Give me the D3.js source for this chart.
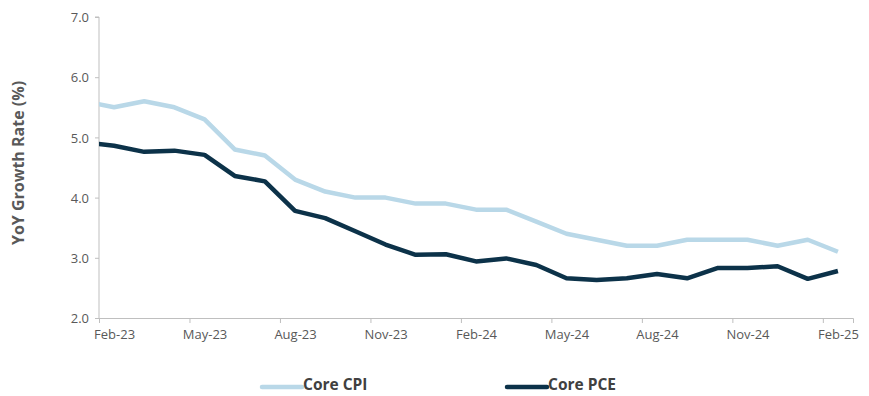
<!DOCTYPE html>
<html>
<head>
<meta charset="utf-8">
<script src="https://cdn.jsdelivr.net/npm/d3@7"></script>
<style>
  html, body { margin: 0; padding: 0; background: #fff; }
  svg { display: block; }
  svg text { font-family: "Open Sans", sans-serif; }
</style>
</head>
<body>
<svg id="chart" width="869" height="396"></svg>
<script>
// Monthly observations, Jan-23 through Feb-25 (Jan-23 only feeds the clipped lead-in)
const months = ["Jan-23","Feb-23","Mar-23","Apr-23","May-23","Jun-23","Jul-23","Aug-23","Sep-23","Oct-23","Nov-23","Dec-23",
  "Jan-24","Feb-24","Mar-24","Apr-24","May-24","Jun-24","Jul-24","Aug-24","Sep-24","Oct-24","Nov-24","Dec-24",
  "Jan-25","Feb-25"];
const coreCPI = [5.6,5.5,5.6,5.5,5.3,4.8,4.7,4.3,4.1,4.0,4.0,3.9,3.9,3.8,3.8,3.6,3.4,3.3,3.2,3.2,3.3,3.3,3.3,3.2,3.3,3.1];
const corePCE = [4.92,4.86,4.76,4.78,4.71,4.36,4.27,3.78,3.66,3.44,3.22,3.05,3.06,2.94,2.99,2.88,2.66,2.63,2.66,2.73,2.66,2.83,2.83,2.86,2.65,2.78];
const xTickLabels = ["Feb-23","May-23","Aug-23","Nov-23","Feb-24","May-24","Aug-24","Nov-24","Feb-25"];
const yTicks = [2.0,3.0,4.0,5.0,6.0,7.0];
const seriesNames = ["Core CPI","Core PCE"];
const seriesColors = ["#b9d8e8","#0c3249"];

const svg = d3.select("#chart");
const plotLeft = 99, plotRight = 853, plotTop = 17, plotBottom = 318;

// Month slots: slot 0 = Feb-23 spans [0,1]; points and labels sit at slot centres
const x = d3.scaleLinear().domain([0, 25]).range([plotLeft, plotRight]);
const y = d3.scaleLinear().domain([2, 7]).range([plotBottom, plotTop]);
const startIdx = months.indexOf("Feb-23");
const px = i => x(i - startIdx + 0.5);
const halfSlot = x(0.5) - x(0);

svg.append("defs").append("clipPath").attr("id", "plot")
  .append("rect").attr("x", plotLeft).attr("y", 0)
  .attr("width", plotRight - plotLeft).attr("height", plotBottom + 5);

// Y axis
const yAxis = svg.append("g").attr("transform", `translate(${plotLeft},0)`)
  .call(d3.axisLeft(y).tickValues(yTicks).tickFormat(d3.format(".1f")).tickSize(4).tickPadding(6));
// X axis: tick marks on every third month boundary, labels centred in the month
const xTickPos = xTickLabels.map(l => months.indexOf(l) - startIdx);
const xAxis = svg.append("g").attr("transform", `translate(0,${plotBottom})`)
  .call(d3.axisBottom(x).tickValues(xTickPos).tickFormat((d, i) => xTickLabels[i]).tickSize(5).tickPadding(7));
xAxis.selectAll(".tick text").attr("x", halfSlot);

[yAxis, xAxis].forEach(g => {
  g.attr("font-family", "'Open Sans', sans-serif").attr("font-size", 13);
  g.select(".domain").attr("stroke", "#bfbfbf").attr("stroke-width", 1);
  g.selectAll(".tick line").attr("stroke", "#bfbfbf");
  g.selectAll(".tick text").attr("fill", "#595959");
});
yAxis.select(".domain").attr("d", `M-4,${y(7)}H0V${plotBottom}`);
yAxis.selectAll(".tick text").attr("dy", "0.36em");

// Y-axis title
svg.append("text")
  .attr("transform", `translate(24,163) rotate(-90)`)
  .attr("text-anchor", "middle")
  .attr("fill", "#595959")
  .style("font-size", "16px").style("font-weight", "bold")
  .text("YoY Growth Rate (%)");

// Lines
const line = d3.line().x((d, i) => px(i)).y(d => y(d));
const plot = svg.append("g").attr("clip-path", "url(#plot)");
[coreCPI, corePCE].forEach((vals, k) => {
  plot.append("path").datum(vals)
    .attr("fill", "none")
    .attr("stroke", seriesColors[k])
    .attr("stroke-width", 4.5)
    .attr("stroke-linejoin", "round")
    .attr("d", line);
});

// Legend
const legendX = [262, 507];
seriesNames.forEach((name, k) => {
  const g = svg.append("g").attr("transform", `translate(${legendX[k]},387)`);
  g.append("line").attr("x1", 0).attr("x2", 40).attr("y1", 0).attr("y2", 0)
    .attr("stroke", seriesColors[k]).attr("stroke-width", 4.5).attr("stroke-linecap", "round");
  g.append("text").attr("x", 41).attr("y", -2).attr("dy", "0.35em")
    .attr("fill", "#404040").style("font-size", "15.5px").style("font-weight", "bold")
    .text(name);
});
</script>
</body>
</html>
